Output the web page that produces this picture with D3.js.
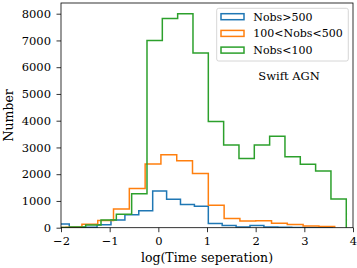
<!DOCTYPE html>
<html>
<head>
<meta charset="utf-8">
<script src="https://cdn.jsdelivr.net/npm/d3@7"></script>
<style>
  html, body { margin: 0; padding: 0; background: #fff; }
  svg { display: block; font-family: "DejaVu Serif", serif; }
</style>
</head>
<body>
<svg id="chart" width="357" height="268"></svg>
<script>
// bin edges per series
const blueEdges = [-2.116, -1.830, -1.545, -1.259, -0.973, -0.687, -0.402, -0.116, 0.170, 0.455, 0.741,
    1.027, 1.312, 1.598, 1.884, 2.169, 2.455, 2.741, 3.026, 3.312, 3.598];
const blueCounts = [140, 10, 15, 110, 290, 480, 630, 1370, 1060, 870, 800,
    160, 85, 30, 85, 25, 20, 10, 5, 0];

const orangeEdges = [-2.220, -1.895, -1.570, -1.245, -0.921, -0.596, -0.271, 0.053, 0.378, 0.702,
    1.027, 1.352, 1.676, 2.001, 2.326, 2.650, 2.975, 3.300, 3.624];
const orangeCounts = [10, 20, 130, 270, 700, 1470, 2377, 2724, 2500, 2030,
    836, 340, 255, 260, 170, 120, 60, 45];

const greenEdges = [-2.123, -1.808, -1.493, -1.178, -0.863, -0.548, -0.233, 0.082, 0.397, 0.712,
    1.027, 1.342, 1.657, 1.972, 2.287, 2.602, 2.917, 3.232, 3.547, 3.862];
const greenCounts = [5, 30, 100, 285, 500, 1270, 7000, 7820, 8000, 6530,
    3970, 3090, 2590, 3090, 3420, 2650, 2370, 2115, 1070];

const seriesNames = ["Nobs>500", "100<Nobs<500", "Nobs<100"];
const seriesColors = ["#1f77b4", "#ff7f0e", "#2ca02c"];
const xTicks = [-2, -1, 0, 1, 2, 3, 4];
const yTicks = [0, 1000, 2000, 3000, 4000, 5000, 6000, 7000, 8000];

const series = [
    { name: seriesNames[0], color: seriesColors[0], edges: blueEdges, counts: blueCounts },
    { name: seriesNames[1], color: seriesColors[1], edges: orangeEdges, counts: orangeCounts },
    { name: seriesNames[2], color: seriesColors[2], edges: greenEdges, counts: greenCounts }
];

const margin = { top: 3, right: 4, bottom: 40.3, left: 61 };
const W = 357, H = 268;
const plotW = W - margin.left - margin.right;
const plotH = H - margin.top - margin.bottom;

const svg = d3.select("#chart");

const x = d3.scaleLinear().domain([-2, 4]).range([margin.left, margin.left + plotW]);
const y = d3.scaleLinear().domain([0, 8400]).range([margin.top + plotH, margin.top]);

svg.append("defs").append("clipPath")
    .attr("id", "plot-clip")
    .append("rect")
    .attr("x", margin.left)
    .attr("y", margin.top)
    .attr("width", plotW)
    .attr("height", plotH);

// step outlines
const stepPoints = s => {
    const pts = [[s.edges[0], 0]];
    s.counts.forEach((c, i) => {
        pts.push([s.edges[i], c]);
        pts.push([s.edges[i + 1], c]);
    });
    pts.push([s.edges[s.edges.length - 1], 0]);
    return pts;
};

const line = d3.line().x(d => x(d[0])).y(d => y(d[1]));

svg.append("g")
    .attr("clip-path", "url(#plot-clip)")
    .selectAll(".hist")
    .data(series)
    .join("path")
    .attr("class", "hist")
    .attr("d", d => line(stepPoints(d)))
    .attr("fill", "none")
    .attr("stroke", d => d.color)
    .attr("stroke-width", 1.5)
    .attr("stroke-linejoin", "miter");

// axes
const xAxis = svg.append("g")
    .attr("transform", `translate(0, ${margin.top + plotH})`)
    .call(d3.axisBottom(x).tickValues(xTicks).tickSize(4.5).tickPadding(4.5).tickFormat(d => d < 0 ? "\u2212" + Math.abs(d) : d));

const yAxis = svg.append("g")
    .attr("transform", `translate(${margin.left}, 0)`)
    .call(d3.axisLeft(y).tickValues(yTicks).tickSize(4.5).tickPadding(5.5).tickFormat(d3.format("d")));

[xAxis, yAxis].forEach(a => {
    a.select(".domain").remove();
    a.selectAll("line").attr("stroke", "#000").attr("stroke-width", 0.8);
    a.selectAll("text").attr("font-family", "DejaVu Serif").attr("font-size", 11.5).attr("fill", "#000");
});

// spines
svg.append("rect")
    .attr("x", margin.left)
    .attr("y", margin.top)
    .attr("width", plotW)
    .attr("height", plotH)
    .attr("fill", "none")
    .attr("stroke", "#000")
    .attr("stroke-width", 0.8);

// axis labels
svg.append("text")
    .text("log(Time seperation)")
    .attr("x", margin.left + plotW / 2)
    .attr("y", 262)
    .attr("text-anchor", "middle")
    .attr("font-size", 12.5);

svg.append("text")
    .text("Number")
    .attr("transform", `translate(12.5, ${margin.top + plotH / 2}) rotate(-90)`)
    .attr("text-anchor", "middle")
    .attr("font-size", 12.5);

// legend
const legend = svg.append("g").attr("transform", "translate(216.7, 8.3)");
legend.append("rect")
    .attr("width", 131.6)
    .attr("height", 52.7)
    .attr("rx", 2)
    .attr("fill", "#fff")
    .attr("fill-opacity", 0.8)
    .attr("stroke", "#cccccc")
    .attr("stroke-width", 0.8);

const item = legend.selectAll(".item")
    .data(series)
    .join("g")
    .attr("class", "item")
    .attr("transform", (d, i) => `translate(0, ${8.4 + i * 16.7})`);

item.append("rect")
    .attr("x", 4.3)
    .attr("y", -3)
    .attr("width", 23)
    .attr("height", 6)
    .attr("fill", "none")
    .attr("stroke", d => d.color)
    .attr("stroke-width", 1.5);

item.append("text")
    .text(d => d.name)
    .attr("x", 36.6)
    .attr("dy", "0.35em")
    .attr("font-size", 11);

svg.append("text")
    .text("Swift AGN")
    .attr("x", 289)
    .attr("y", 76)
    .attr("dy", "0.35em")
    .attr("text-anchor", "middle")
    .attr("font-size", 11.5);
</script>
</body>
</html>
